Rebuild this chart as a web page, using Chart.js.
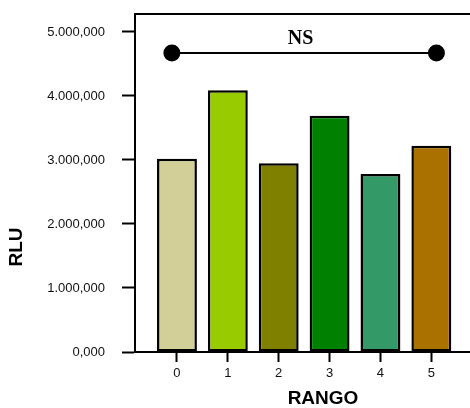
<!DOCTYPE html>
<html>
<head>
<meta charset="utf-8">
<script src="https://cdn.jsdelivr.net/npm/chart.js@4/dist/chart.umd.min.js"></script>
<style>
  body { margin: 0; background: #fff; }
  #wrap { width: 470px; height: 408px; position: relative; }
</style>
</head>
<body>
<div id="wrap"><canvas id="rlu_chart"></canvas></div>
<script>
var categories = [0, 1, 2, 3, 4, 5];
var rluValues = [3020000, 4090000, 2950000, 3690000, 2780000, 3220000];
var barColors = ['#D3CF99', '#99CC00', '#808000', '#008000', '#339966', '#AA7000'];
var yTicks = [0, 1000000, 2000000, 3000000, 4000000, 5000000];
var yTickLabels = ['0,000', '1.000,000', '2.000,000', '3.000,000', '4.000,000', '5.000,000'];
var nsX = [-0.1, 5.1];
var nsY = 4670000;
var nsText = 'NS';

// axis titles, top frame line and the NS label
var extrasPlugin = {
    id: 'extras',
    afterDraw: (chart) => {
        var ctx = chart.ctx;
        var area = chart.chartArea;
        ctx.save();
        ctx.strokeStyle = '#000';
        ctx.lineWidth = 2;
        ctx.beginPath();
        ctx.moveTo(area.left - 1, area.top);
        ctx.lineTo(area.right, area.top);
        ctx.stroke();

        ctx.fillStyle = '#000';
        ctx.textAlign = 'center';
        ctx.textBaseline = 'middle';
        ctx.font = 'bold 20px "Liberation Serif", "Times New Roman", serif';
        var nx = chart.scales.x.getPixelForValue((nsX[0] + nsX[1]) / 2 - 0.07);
        var ny = chart.scales.y.getPixelForValue(nsY);
        ctx.fillText(nsText, nx, ny - 14);

        ctx.font = 'bold 19px "Liberation Sans", Arial, sans-serif';
        ctx.fillText('RANGO', 323, 399);
        ctx.translate(17, 247);
        ctx.rotate(-Math.PI / 2);
        ctx.fillText('RLU', 0, 0);
        ctx.restore();
    }
};

var ctx_rlu = document.getElementById('rlu_chart');
var rluChart = new Chart(ctx_rlu, {
    type: 'bar',
    data: {
        datasets: [{
            type: 'bar',
            label: 'RLU',
            data: categories.map((c, i) => ({ x: c, y: rluValues[i] })),
            backgroundColor: barColors,
            borderColor: '#000',
            borderWidth: 2.5,
            borderSkipped: false,
            barPercentage: 0.98,
            categoryPercentage: 0.8,
            order: 2
        }, {
            type: 'line',
            label: nsText,
            data: [{ x: nsX[0], y: nsY }, { x: nsX[1], y: nsY }],
            borderColor: '#000',
            borderWidth: 2,
            pointRadius: 7.5,
            pointBackgroundColor: '#000',
            pointBorderColor: '#000',
            order: 1
        }]
    },
    options: {
        responsive: true,
        maintainAspectRatio: false,
        animation: false,
        layout: { autoPadding: false, padding: { top: 14, right: 0, left: 0, bottom: 0 } },
        plugins: {
            legend: { display: false },
            tooltip: { enabled: false }
        },
        scales: {
            x: {
                type: 'linear',
                min: -0.825,
                max: 5.76,
                offset: false,
                afterBuildTicks: (axis) => { axis.ticks = categories.map(v => ({ value: v })); },
                afterFit: (axis) => {
                    axis.height = 56;
                    axis.paddingLeft = 0;
                    axis.paddingRight = 0;
                },
                grid: {
                    display: true,
                    drawOnChartArea: false,
                    offset: false,
                    tickLength: 10,
                    tickWidth: 2,
                    tickColor: '#000'
                },
                border: { display: true, color: '#000', width: 2 },
                ticks: {
                    padding: 4,
                    color: '#111',
                    font: { family: '"Liberation Sans", Arial, sans-serif', size: 13 },
                    callback: (value) => String(value)
                }
            },
            y: {
                min: 0,
                max: 5280000,
                afterBuildTicks: (axis) => { axis.ticks = yTicks.map(v => ({ value: v })); },
                afterFit: (axis) => {
                    axis.width = 135;
                    axis.paddingTop = 0;
                    axis.paddingBottom = 0;
                },
                grid: {
                    display: true,
                    drawOnChartArea: false,
                    tickLength: 13,
                    tickWidth: 2,
                    tickColor: '#000'
                },
                border: { display: true, color: '#000', width: 2 },
                ticks: {
                    padding: 17,
                    color: '#111',
                    font: { family: '"Liberation Sans", Arial, sans-serif', size: 13 },
                    callback: (value, index) => yTickLabels[index]
                }
            }
        }
    },
    plugins: [extrasPlugin]
});
</script>
</body>
</html>
